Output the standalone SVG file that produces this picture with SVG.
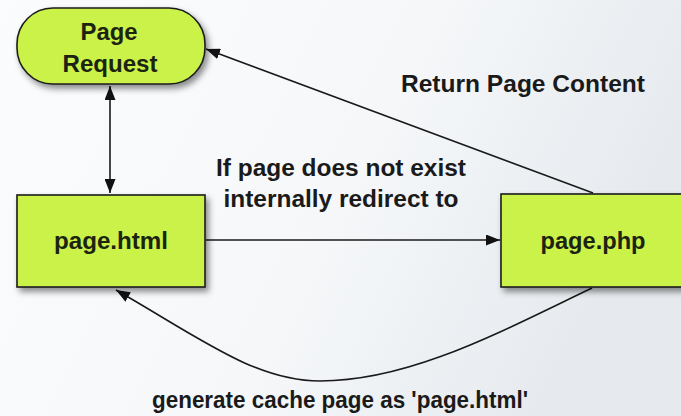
<svg xmlns="http://www.w3.org/2000/svg" width="681" height="416" viewBox="0 0 681 416">
  <defs>
    <linearGradient id="bg" x1="0" y1="0" x2="1" y2="0.3">
      <stop offset="0" stop-color="#fbfcfd"/>
      <stop offset="0.6" stop-color="#f5f7f9"/>
      <stop offset="1" stop-color="#e6eaee"/>
    </linearGradient>
    <filter id="shadow" x="-20%" y="-20%" width="150%" height="160%">
      <feDropShadow dx="3" dy="4" stdDeviation="3" flood-color="#000" flood-opacity="0.45"/>
    </filter>
    <marker id="arrow" viewBox="0 0 14 11" refX="14" refY="5.5" markerWidth="14" markerHeight="11" markerUnits="userSpaceOnUse" orient="auto-start-reverse">
      <path d="M0,0 L14,5.5 L0,11 Z" fill="#111"/>
    </marker>
  </defs>
  <style>
    .node { fill: #cbf24a; stroke: #1c1c1c; stroke-width: 1.6; filter: url(#shadow); }
    .ntext { font-family: "Liberation Sans", Arial, sans-serif; font-weight: bold; font-size: 23px; fill: #1b2410; text-anchor: middle; }
    .label { font-family: "Liberation Sans", Arial, sans-serif; font-weight: bold; font-size: 23px; fill: #1a1a1a; text-anchor: middle; }
    .edge { fill: none; stroke: #1a1a1a; stroke-width: 1.6; }
  </style>

  <rect width="681" height="416" fill="url(#bg)"/>

  <!-- connectors -->
  <g id="connectors">
    <line class="edge" x1="110" y1="86" x2="110" y2="193" marker-start="url(#arrow)" marker-end="url(#arrow)"/>
    <line class="edge" x1="206" y1="240" x2="500" y2="240" marker-end="url(#arrow)"/>
    <line class="edge" x1="593" y1="193" x2="206" y2="49" marker-end="url(#arrow)"/>
    <path class="edge" d="M592,288 C500,332 410,381 320,381 C255,381 200,338 116,290" marker-end="url(#arrow)"/>
  </g>

  <!-- connector labels -->
  <text class="label" x="523" y="92" textLength="244" lengthAdjust="spacingAndGlyphs">Return Page Content</text>
  <text class="label" x="341" y="176" textLength="250" lengthAdjust="spacingAndGlyphs">If page does not exist</text>
  <text class="label" x="341" y="207" textLength="235" lengthAdjust="spacingAndGlyphs">internally redirect to</text>
  <text class="label" x="340" y="408" textLength="376" lengthAdjust="spacingAndGlyphs">generate cache page as 'page.html'</text>

  <!-- nodes -->
  <g id="page-request">
    <rect class="node" x="17" y="8" width="188" height="76" rx="36" ry="36"/>
    <text class="ntext" x="109" y="40" textLength="57" lengthAdjust="spacingAndGlyphs">Page</text>
    <text class="ntext" x="110" y="72" textLength="95" lengthAdjust="spacingAndGlyphs">Request</text>
  </g>
  <g id="page-html">
    <rect class="node" x="17" y="195" width="188" height="92"/>
    <text class="ntext" x="111" y="249" textLength="114" lengthAdjust="spacingAndGlyphs">page.html</text>
  </g>
  <g id="page-php">
    <rect class="node" x="501" y="194" width="200" height="93"/>
    <text class="ntext" x="593" y="249" textLength="105" lengthAdjust="spacingAndGlyphs">page.php</text>
  </g>
</svg>
